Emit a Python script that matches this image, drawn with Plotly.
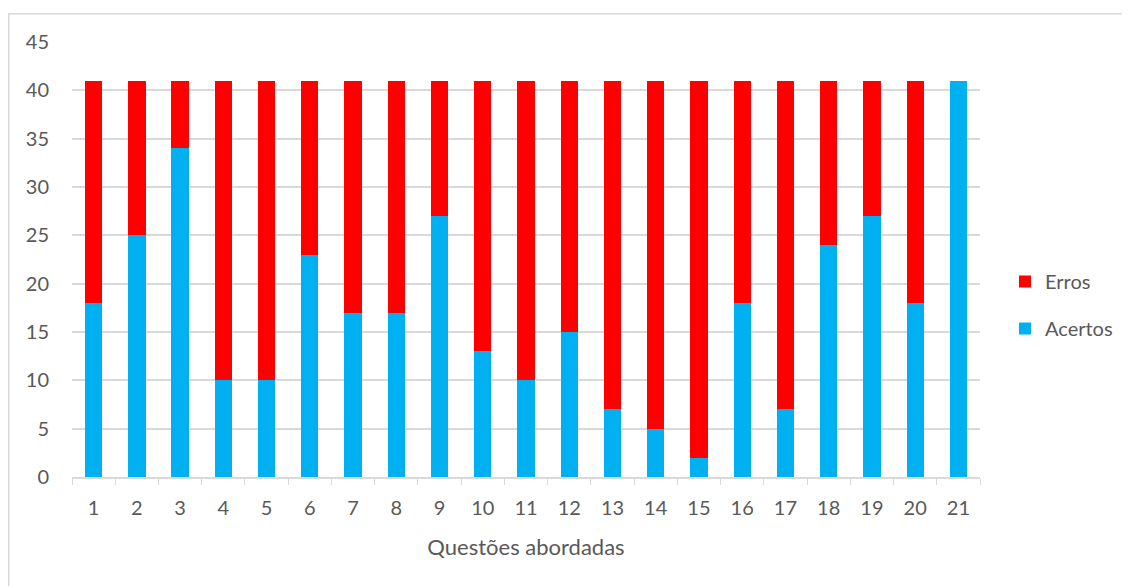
import plotly.graph_objects as go

questoes = [str(i) for i in range(1, 22)]
acertos = [18, 25, 34, 10, 10, 23, 17, 17, 27, 13, 10, 15, 7, 5, 2, 18, 7, 24, 27, 18, 41]
erros = [41 - a for a in acertos]

# page has an 8px body margin; figure coordinates are page coordinates minus 8
OFF = 8
W, H = 1130 - OFF, 586 - OFF
L, T = 72 - OFF, 42 - OFF
R = W - (980 - OFF)
B = H - (477 - OFF)
pw, ph = W - L - R, H - T - B

fig = go.Figure()
fig.add_trace(go.Bar(x=questoes, y=acertos, name="Acertos", legendgroup="a", legendrank=2,
                     marker=dict(color="#00B0F0", line=dict(width=0))))
fig.add_trace(go.Bar(x=questoes, y=erros, name="Erros", legendgroup="e", legendrank=1,
                     marker=dict(color="#FF0000", line=dict(width=0))))

font = "Lato, 'Open Sans', sans-serif"
fig.update_layout(
    width=W, height=H,
    barmode="stack", bargap=0.6,
    margin=dict(l=L, r=R, t=T, b=B, autoexpand=False),
    plot_bgcolor="white", paper_bgcolor="white",
    font=dict(family=font, color="#595959", size=20),
    legend=dict(traceorder="grouped", xref="container", yref="container",
                x=(1005 - OFF) / W, y=1 - (262 - OFF) / H, xanchor="left", yanchor="top",
                font=dict(size=20, color="#595959"), itemwidth=30, tracegroupgap=18),
    xaxis=dict(type="category", showgrid=False, showline=True, linecolor="#D9D9D9", linewidth=1.5,
               ticks="outside", tickson="boundaries", ticklen=6, tickcolor="#D9D9D9",
               ticklabelstandoff=12,
               title=dict(text="Questões abordadas", font=dict(size=22, color="#595959"), standoff=22),
               tickfont=dict(size=20)),
    yaxis=dict(range=[0, 45], dtick=5, showgrid=True, gridcolor="#D9D9D9", gridwidth=1.5,
               zeroline=False, showline=False, ticks="", tickfont=dict(size=20), ticklabelstandoff=22),
    shapes=[dict(type="rect", xref="paper", yref="paper",
                 x0=(8.75 - 72) / pw, x1=(1150 - 72) / pw,
                 y0=(477 - 610) / ph, y1=(477 - 13.75) / ph,
                 line=dict(color="#D9D9D9", width=1.5), layer="below")],
)
fig.write_html("out.html")
